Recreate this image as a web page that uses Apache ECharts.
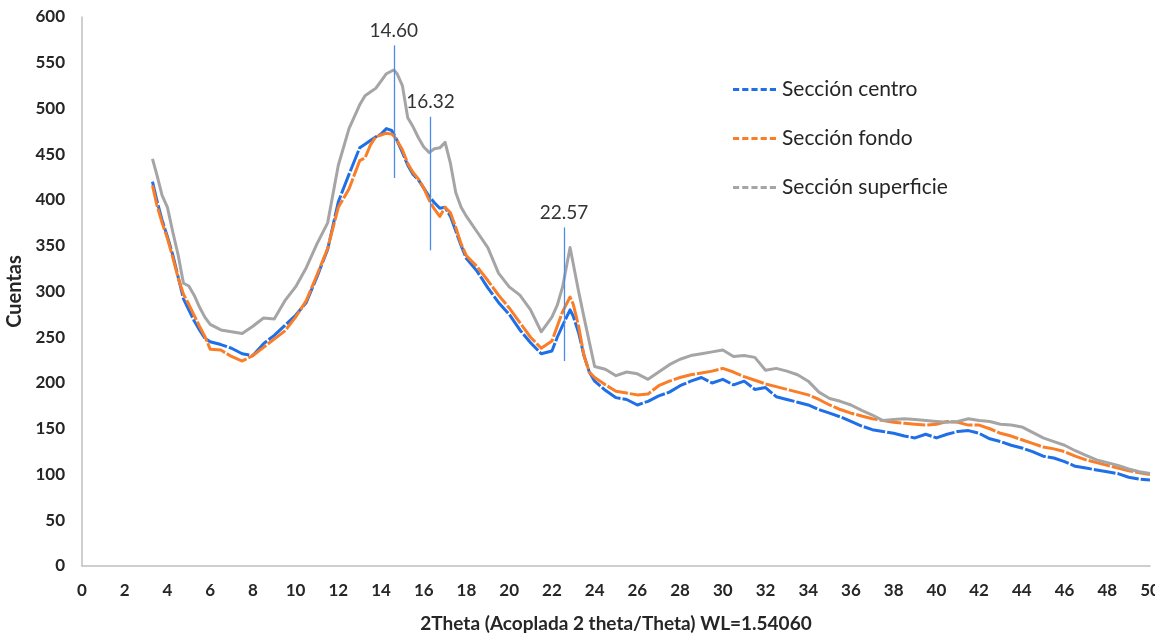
<!DOCTYPE html>
<html>
<head>
<meta charset="utf-8">
<title>Difractograma XRD</title>
<script src="https://cdn.jsdelivr.net/npm/echarts@6/dist/echarts.min.js"></script>
<style>
  html, body { margin: 0; padding: 0; background: #ffffff; }
  #chart { width: 1155px; height: 634px; }
</style>
</head>
<body>
<div id="chart"></div>
<script>
// 2θ positions (degrees)
const twoTheta = [
  3.3, 3.5, 3.75, 4, 4.25, 4.5, 4.75, 5, 5.25, 5.5, 5.75, 6,
  6.5, 7, 7.5, 8, 8.5, 9, 9.5, 10, 10.5, 11, 11.5, 12,
  12.5, 13, 13.25, 13.5, 13.75, 14, 14.25, 14.5, 14.6, 14.75, 15, 15.25,
  15.5, 15.75, 16, 16.25, 16.5, 16.75, 17, 17.25, 17.5, 17.75, 18, 18.5,
  19, 19.5, 20, 20.5, 21, 21.5, 22, 22.25, 22.5, 22.85, 23, 23.25,
  23.5, 23.75, 24, 24.5, 25, 25.5, 26, 26.5, 27, 27.5, 28, 28.5,
  29, 29.5, 30, 30.5, 31, 31.5, 32, 32.5, 33, 33.5, 34, 34.5,
  35, 35.5, 36, 36.5, 37, 37.5, 38, 38.5, 39, 39.5, 40, 40.5,
  41, 41.5, 42, 42.5, 43, 43.5, 44, 44.5, 45, 45.5, 46, 46.5,
  47, 47.5, 48, 48.5, 49, 49.5, 50
];

// Counts per sample section
const centro = [
  420, 400, 378, 360, 340, 316, 292, 280, 268, 258, 249, 245,
  242, 238, 232, 230, 243, 252, 263, 274, 288, 316, 346, 398,
  428, 457, 461, 465, 469, 472, 478, 476, 472, 465, 452, 438,
  428, 422, 413, 404, 397, 391, 392, 382, 366, 350, 336, 322,
  304, 288, 275, 258, 244, 232, 235, 250, 263, 280, 273, 255,
  230, 212, 202, 192, 184, 182, 176, 180, 186, 190, 197, 202,
  206, 200, 204, 198, 202, 193, 195, 185, 182, 179, 176, 171,
  167, 163, 158, 153, 149, 147, 145, 142, 140, 144, 140, 144,
  147, 148, 145, 139, 136, 132, 129, 125, 120, 118, 114, 109,
  107, 105, 103, 101, 97, 95, 94
];

const fondo = [
  416, 395, 375, 358, 337, 315, 297, 286, 274, 262, 251, 237,
  236, 229, 224, 230, 239, 248, 257, 272, 290, 318, 347, 392,
  412, 443, 446, 460, 469, 471, 473, 472, 470, 465, 455, 440,
  430, 423, 413, 400, 390, 382, 392, 386, 370, 352, 339, 327,
  312, 296, 282, 266, 250, 238, 246, 262, 278, 294, 286, 262,
  230, 212, 206, 198, 191, 189, 187, 188, 197, 202, 206, 209,
  211, 213, 216, 212, 207, 203, 199, 196, 193, 190, 187, 182,
  176, 171, 167, 164, 161, 159, 157, 156, 155, 154, 155, 158,
  157, 154, 154, 150, 145, 142, 138, 134, 130, 128, 125, 120,
  116, 113, 110, 107, 104, 102, 100
];

const superficie = [
  445, 428, 405, 392, 365, 340, 309, 306, 296, 283, 272, 264,
  258, 256, 254, 262, 271, 270, 290, 305, 326, 352, 375, 438,
  478, 504, 514, 518, 522, 530, 538, 541, 542, 538, 525, 490,
  480, 468, 458, 452, 456, 457, 463, 440, 408, 392, 382, 365,
  348, 320, 305, 296, 280, 256, 272, 285, 305, 348, 330, 300,
  272, 245, 218, 215, 208, 212, 210, 204, 212, 220, 226, 230,
  232, 234, 236, 229, 230, 228, 214, 216, 213, 209, 202, 190,
  183, 180, 176, 170, 165, 159, 160, 161, 160, 159, 158, 157,
  158, 161, 159, 158, 155, 154, 152, 146, 140, 136, 132, 126,
  121, 116, 113, 110, 106, 103, 101
];

const seriesNames = ['Sección centro', 'Sección fondo', 'Sección superficie'];
const seriesColors = ['#1f6fe8', '#fa7d28', '#a5a5a5'];

// Marked reflections: position, lower and upper end of the marker line
const peakPos = [14.60, 16.32, 22.57];
const peakLow = [424, 345, 224];
const peakHigh = [569, 491, 370];

const FONT = 'Lato, "Open Sans", sans-serif';

function pairs(ys) {
  return twoTheta.map((x, i) => [x, ys[i]]);
}

const peakLines = peakPos.map((p, i) => [
  { coord: [p, peakLow[i]] },
  { coord: [p, peakHigh[i]], label: { formatter: p.toFixed(2) } }
]);

const chart = echarts.init(document.getElementById('chart'), null, { renderer: 'canvas' });

const dataSets = [centro, fondo, superficie];
const series = dataSets.map((ys, i) => ({
  name: seriesNames[i],
  type: 'line',
  data: pairs(ys),
  symbol: 'none',
  showSymbol: false,
  animation: false,
  z: 2 + i,
  lineStyle: {
    color: seriesColors[i],
    width: 3,
    type: i === 2 ? 'solid' : [22, 2],
    join: 'round'
  },
  itemStyle: { color: seriesColors[i] }
}));

series[2].markLine = {
  silent: true,
  symbol: 'none',
  animation: false,
  lineStyle: { color: '#4a8ae8', width: 1.3, type: 'solid' },
  label: {
    show: true,
    position: 'end',
    distance: 5,
    color: '#333333',
    fontFamily: FONT,
    fontSize: 19
  },
  data: peakLines
};

chart.setOption({
  backgroundColor: '#ffffff',
  animation: false,
  grid: { left: 82, right: 5, top: 17, bottom: 68, containLabel: false, outerBoundsMode: 'none' },
  legend: {
    orient: 'vertical',
    left: 728,
    top: 74,
    itemWidth: 43,
    itemHeight: 12,
    itemGap: 28,
    textStyle: { fontFamily: FONT, fontSize: 21, color: '#262626', padding: [0, 0, 0, 1] },
    data: seriesNames.map((n, i) => ({
      name: n,
      icon: 'path://M0,0 L6,0 L6,3 L0,3 Z M9,0 L15,0 L15,3 L9,3 Z M18,0 L24,0 L24,3 L18,3 Z M27,0 L33,0 L33,3 L27,3 Z M36,0 L42,0 L42,3 L36,3 Z',
      itemStyle: { color: seriesColors[i] }
    }))
  },
  xAxis: {
    type: 'value',
    min: 0,
    max: 50,
    interval: 2,
    name: '2Theta (Acoplada 2 theta/Theta) WL=1.54060',
    nameLocation: 'middle',
    nameGap: 48,
    nameTextStyle: { fontFamily: FONT, fontSize: 19, fontWeight: 'bold', color: '#262626' },
    axisLine: { show: true, onZero: false, lineStyle: { color: '#bfbfbf', width: 1.5 } },
    axisTick: { show: false },
    splitLine: { show: false },
    axisLabel: { margin: 16, fontFamily: FONT, fontSize: 17, fontWeight: 'bold', color: '#262626' }
  },
  yAxis: {
    type: 'value',
    min: 0,
    max: 600,
    interval: 50,
    name: 'Cuentas',
    nameLocation: 'middle',
    nameGap: 55,
    nameTextStyle: { fontFamily: FONT, fontSize: 20, fontWeight: 'bold', color: '#262626' },
    axisLine: { show: true, lineStyle: { color: '#bfbfbf', width: 1.5 } },
    axisTick: { show: false },
    splitLine: { show: false },
    axisLabel: { margin: 17, fontFamily: FONT, fontSize: 17, fontWeight: 'bold', color: '#262626' }
  },
  series: series
});
</script>
</body>
</html>
